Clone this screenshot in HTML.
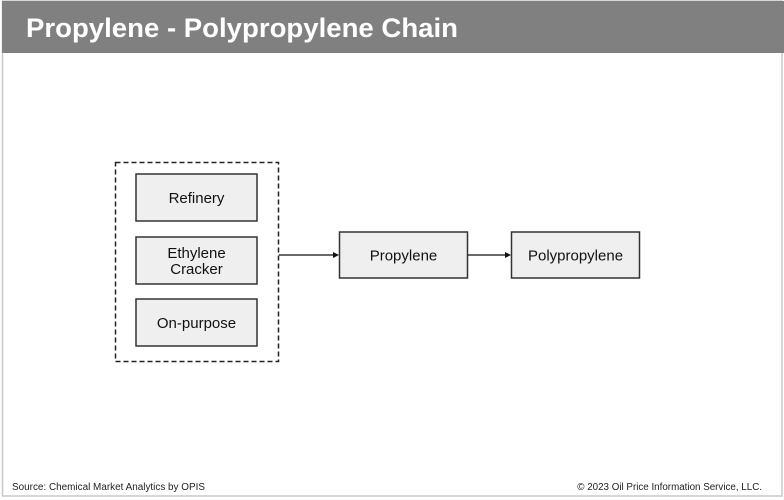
<!DOCTYPE html>
<html><head><meta charset="utf-8"><style>
html,body{margin:0;padding:0;background:#fff;}
body{width:784px;height:500px;overflow:hidden;position:relative;font-family:"Liberation Sans",Arial,sans-serif;}
</style></head><body>
<svg width="784" height="500" xmlns="http://www.w3.org/2000/svg" style="position:absolute;left:0;top:0">
<rect x="2.5" y="1" width="779.5" height="495" fill="#fff" stroke="#c8c8c8" stroke-width="1.5"/>
<rect x="2" y="1" width="782" height="52" fill="#808080"/>
<text x="26" y="37" font-family="Liberation Sans, Arial, sans-serif" font-size="27" font-weight="bold" fill="#fff" textLength="432" lengthAdjust="spacingAndGlyphs">Propylene - Polypropylene Chain</text>
<rect x="115.5" y="162.5" width="163" height="199" fill="none" stroke="#222" stroke-width="1.5" stroke-dasharray="5,3"/>
<g fill="#efefef" stroke="#333" stroke-width="1.5">
<rect x="136" y="174" width="121" height="47"/>
<rect x="136" y="237" width="121" height="47"/>
<rect x="136" y="299" width="121" height="47"/>
<rect x="339.5" y="232" width="128" height="46"/>
<rect x="511.5" y="232" width="128" height="46"/>
</g>
<g font-family="Liberation Sans, Arial, sans-serif" font-size="15" fill="#111" text-anchor="middle">
<text x="196.5" y="203">Refinery</text>
<text x="196.5" y="258">Ethylene</text>
<text x="196.5" y="274">Cracker</text>
<text x="196.5" y="328">On-purpose</text>
<text x="403.5" y="260.5">Propylene</text>
<text x="575.5" y="260.5">Polypropylene</text>
</g>
<g stroke="#111" stroke-width="1.2">
<line x1="279" y1="255" x2="334" y2="255"/>
<line x1="468" y1="255" x2="506" y2="255"/>
</g>
<g fill="#111">
<polygon points="339,255 333,252 333,258"/>
<polygon points="511,255 505,252 505,258"/>
</g>
<g font-family="Liberation Sans, Arial, sans-serif" font-size="9.8" fill="#222">
<text x="12" y="490" textLength="193" lengthAdjust="spacingAndGlyphs">Source: Chemical Market Analytics by OPIS</text>
<text x="762" y="490" text-anchor="end">© 2023 Oil Price Information Service, LLC.</text>
</g>
</svg>
</body></html>
